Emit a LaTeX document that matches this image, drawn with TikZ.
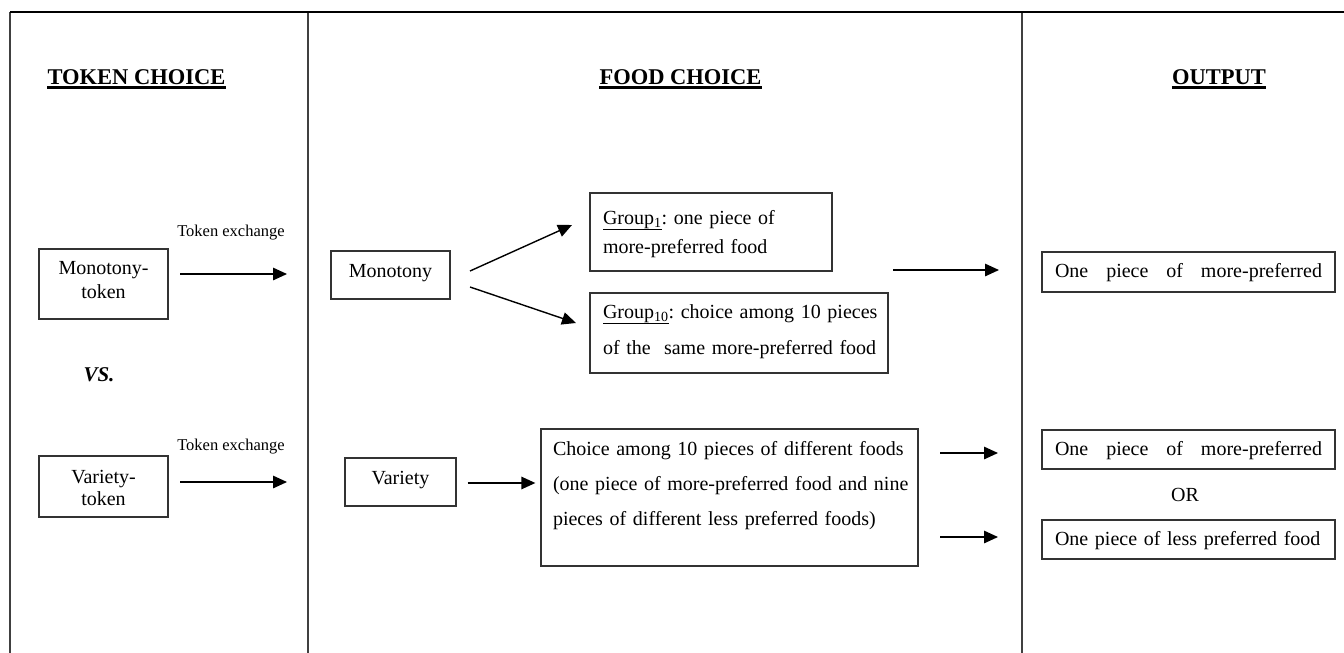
\documentclass[tikz,border=0pt]{standalone}
\usepackage{fontspec}
\setmainfont{Liberation Serif}
\usetikzlibrary{arrows.meta}
\frenchspacing
\begin{document}
\begin{tikzpicture}[x=1pt,y=-1pt,
  frame/.style={line width=1.3pt,draw=black!75},
  topline/.style={line width=2pt,draw=black},
  box/.style={draw=black!80,line width=1.3pt,inner ysep=0pt,font=\fontsize{20}{24}\selectfont},
  hdr/.style={inner sep=0pt,anchor=base,font=\fontsize{22.5}{26}\selectfont\bfseries},
  uline/.style={line width=2.2pt},
  lbl/.style={inner sep=0pt,font=\fontsize{16.5}{19}\selectfont},
  arr/.style={line width=1.4pt,-{Triangle[length=14pt,width=12.5pt]}},
]
\useasboundingbox (0,0) rectangle (1344,653);
% frame
\coordinate (tl) at (10,12);
\coordinate (tr) at (1344,12);
\coordinate (bl) at (10,653);
\coordinate (m1t) at (308,12);
\coordinate (m1b) at (308,653);
\coordinate (m2t) at (1022,12);
\coordinate (m2b) at (1022,653);
\draw[frame] (tl) -- (bl);
\draw[frame] (m1t) -- (m1b);
\draw[frame] (m2t) -- (m2b);
\draw[topline] (tl) -- (tr);
% headers
\node[hdr] (h1) at (136.5,84) {TOKEN CHOICE};
\node[hdr] (h2) at (680.5,84) {FOOD CHOICE};
\node[hdr] (h3) at (1219,84) {OUTPUT};
\foreach \h in {h1,h2,h3}{\draw[uline] ([yshift=-3.5pt]\h.base west) -- ([yshift=-3.5pt]\h.base east);}
% token choice
\node[box,text width=129pt,inner xsep=0pt,align=center,text height=25pt,text depth=45pt] (mt) at (103.5,284) {Monotony-\\token};
\node[box,text width=129pt,inner xsep=0pt,align=center,text height=27pt,text depth=34pt,font=\fontsize{20}{22}\selectfont] (vt) at (103.5,486.5) {Variety-\\token};
\node[lbl] (te1) at (231,233) {Token exchange};
\node[lbl] (te2) at (231,447) {Token exchange};
\coordinate (a1s) at (180,274); \coordinate (a1e) at (287,274);
\coordinate (a2s) at (180,482); \coordinate (a2e) at (287,482);
\draw[arr] (a1s) -- (a1e);
\draw[arr] (a2s) -- (a2e);
\node[inner sep=0pt,font=\fontsize{21}{24}\selectfont\bfseries\itshape] (vs) at (99,375) {VS.};
% food choice
\node[box,text width=119pt,inner xsep=0pt,align=center,text height=26pt,text depth=22pt] (mono) at (390.5,275) {Monotony};
\node[box,text width=216pt,inner xsep=13pt,align=left,text height=31pt,text depth=47pt,font=\fontsize{20}{29}\selectfont] (g1) at (711,232) {\mbox{\underline{Group\textsubscript{1}}: one piece of}\\\mbox{more-preferred food}};
\node[box,text width=272pt,inner xsep=13pt,align=left,text height=25pt,text depth=55pt,font=\fontsize{20}{36}\selectfont] (g10) at (739,333) {\mbox{\underline{Group\textsubscript{10}}: choice among 10 pieces}\\\mbox{of the\ \ same more-preferred food}};
\coordinate (b1s) at (470,271); \coordinate (b1e) at (572,225);
\coordinate (b2s) at (470,287); \coordinate (b2e) at (576,323);
\draw[arr] (b1s) -- (b1e);
\draw[arr] (b2s) -- (b2e);
\coordinate (c1s) at (893,270); \coordinate (c1e) at (999,270);
\draw[arr] (c1s) -- (c1e);
\node[box,text width=111pt,inner xsep=0pt,align=center,text height=26pt,text depth=22pt] (var) at (400.5,482) {Variety};
\node[box,text width=353pt,inner xsep=12pt,align=left,text height=26pt,text depth=111pt,font=\fontsize{20}{35}\selectfont] (big) at (729.5,497.5) {\mbox{Choice among 10 pieces of different foods}\\\mbox{(one piece of more-preferred food and nine}\\\mbox{pieces of different less preferred foods)}};
\draw[arr,shorten <=11pt,shorten >=5pt] (var.east |- 0,483) -- (big.west |- 0,483);
\coordinate (d1s) at (940,453); \coordinate (d1e) at (998,453);
\coordinate (d2s) at (940,537); \coordinate (d2e) at (998,537);
\draw[arr] (d1s) -- (d1e);
\draw[arr] (d2s) -- (d2e);
% output
\node[box,text width=267pt,inner xsep=13pt,align=left,text height=25pt,text depth=15pt] (o1) at (1188.5,272) {\makebox[267pt][l]{One\hfill piece\hfill of\hfill more-preferred}};
\node[box,text width=267pt,inner xsep=13pt,align=left,text height=25pt,text depth=14pt] (o2) at (1188.5,449.5) {\makebox[267pt][l]{One\hfill piece\hfill of\hfill more-preferred}};
\node[inner sep=0pt,font=\fontsize{20}{24}\selectfont] (or) at (1185,495) {OR};
\node[box,text width=267pt,inner xsep=13pt,align=left,text height=25pt,text depth=14pt] (o3) at (1188.5,539.5) {One piece of less preferred food};
\end{tikzpicture}
\end{document}
